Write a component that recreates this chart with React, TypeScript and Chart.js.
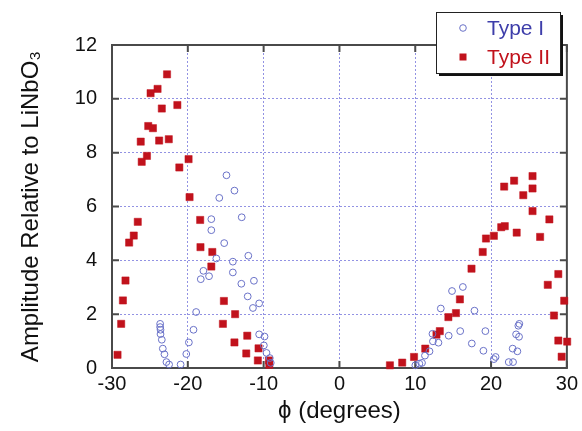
import React, { useEffect, useRef } from "react";
import { Chart, registerables } from "chart.js";

Chart.register(...registerables);

const typeIPhi = [
  -23.65, -23.65, -23.6, -23.6, -23.43, -23.3, -23.08, -22.82, -22.47,
  -20.95, -20.2, -19.86, -19.25, -18.9, -18.29, -17.94, -17.2, -16.9, -16.9,
  -16.24, -15.2, -15.85, -14.9, -13.85, -14.06, -14.06, -12.89, -12.02, -12.94,
  -11.28, -12.1, -11.41, -10.59, -10.59, -9.88, -9.97, -9.62, -9.19, -9.06,
  10.01, 10.54, 10.89, 11.28, 11.88, 12.33, 13.06, 12.27, 14.41, 15.93, 13.37,
  14.85, 16.28, 17.81, 17.46, 19.25, 18.99, 20.37, 20.6, 22.33, 22.9, 22.85,
  23.47, 23.3, 23.69, 23.6, 23.73,
];
const typeIAmp = [
  1.64, 1.52, 1.42, 1.26, 1.05, 0.72, 0.51, 0.22, 0.13,
  0.13, 0.52, 0.95, 1.42, 2.08, 3.3, 3.61, 3.41, 5.12, 5.53,
  4.07, 4.64, 6.32, 7.16, 6.59, 3.95, 3.55, 5.6, 4.17, 3.13,
  3.24, 2.66, 2.23, 2.4, 1.25, 1.17, 0.84, 0.56, 0.37, 0.19,
  0.1, 0.16, 0.19, 0.46, 0.62, 0.99, 0.94, 1.27, 1.2, 1.37, 2.21,
  2.86, 3.01, 2.13, 0.91, 1.37, 0.64, 0.33, 0.41, 0.22, 0.22, 0.72,
  0.62, 1.25, 1.16, 1.57, 1.64,
];

const typeIIPhi = [
  -22.74, -23.99, -24.91, -21.38, -23.43, -25.22, -24.6, -26.21, -23.78, -22.51,
  -25.39, -26.08, -19.9, -21.12, -19.77, -26.6, -27.13, -27.74, -28.22, -28.56,
  -28.79, -29.27, -18.37, -18.33, -16.77, -16.9, -15.24, -13.76, -15.37, -12.16,
  -13.85, -12.29, -10.67, -10.76, -9.3, -9.25,
  6.66, 8.28, 9.84, 11.32, 12.8, 13.24, 14.37, 15.37, 15.89, 17.42, 18.9, 19.33,
  20.37, 21.34, 21.81, 23.38, 21.73, 23.04, 24.25, 25.47, 25.47, 25.47, 27.69,
  26.47, 28.87, 27.48, 29.65, 28.3, 28.87, 30.04, 29.31,
];
const typeIIAmp = [
  10.91, 10.37, 10.21, 9.77, 9.64, 8.99, 8.91, 8.41, 8.45, 8.5,
  7.88, 7.66, 7.76, 7.45, 6.35, 5.43, 4.92, 4.66, 3.25, 2.51,
  1.64, 0.49, 5.5, 4.49, 4.31, 3.77, 2.49, 2.0, 1.64, 1.2,
  0.95, 0.54, 0.73, 0.28, 0.28, 0.12,
  0.1, 0.2, 0.41, 0.72, 1.24, 1.37, 1.89, 2.04, 2.55, 3.69, 4.31, 4.81,
  4.91, 5.23, 5.27, 5.03, 6.74, 6.96, 6.42, 7.13, 6.67, 5.83, 5.52,
  4.87, 3.49, 3.09, 2.5, 1.95, 1.02, 0.98, 0.42,
];

const seriesNames = ["Type I", "Type II"];
const xTickValues = [-30, -20, -10, 0, 10, 20, 30];
const yTickValues = [0, 2, 4, 6, 8, 10, 12];

const FONT = "'Liberation Sans', Arial, Helvetica, sans-serif";
const BLUE_MARK = "#6a72c8";
const BLUE_TEXT = "#3e3eaa";
const RED = "#c1121c";
const FRAME = "#4a4a4a";

const framePlugin = {
  id: "frame",
  beforeDatasetsDraw(chart: any) {
    const { ctx, chartArea, scales } = chart;
    const { left, right, top, bottom } = chartArea;
    ctx.save();
    ctx.strokeStyle = FRAME;
    ctx.lineWidth = 2;
    ctx.strokeRect(left, top, right - left, bottom - top);
    const tl = 7;
    ctx.beginPath();
    xTickValues.forEach((v) => {
      const x = scales.x.getPixelForValue(v);
      ctx.moveTo(x, bottom);
      ctx.lineTo(x, bottom - tl);
      ctx.moveTo(x, top);
      ctx.lineTo(x, top + tl);
    });
    yTickValues.forEach((v) => {
      const y = scales.y.getPixelForValue(v);
      ctx.moveTo(left, y);
      ctx.lineTo(left + tl, y);
      ctx.moveTo(right, y);
      ctx.lineTo(right - tl, y);
    });
    ctx.stroke();
    ctx.restore();
  },
  afterDraw(chart: any) {
    const { ctx } = chart;
    const bx = 436, by = 12, bw = 124, bh = 61;
    ctx.save();
    ctx.fillStyle = "#111";
    ctx.fillRect(bx + 3, by + 3, bw, bh);
    ctx.fillStyle = "#fff";
    ctx.fillRect(bx, by, bw, bh);
    ctx.strokeStyle = "#222";
    ctx.lineWidth = 1;
    ctx.strokeRect(bx + 0.5, by + 0.5, bw, bh);
    ctx.strokeStyle = BLUE_MARK;
    ctx.beginPath();
    ctx.arc(463, 28, 3.3, 0, Math.PI * 2);
    ctx.stroke();
    ctx.fillStyle = RED;
    ctx.fillRect(463 - 3.5, 57 - 3.5, 7, 7);
    ctx.font = `21px ${FONT}`;
    ctx.textBaseline = "middle";
    ctx.textAlign = "left";
    ctx.fillStyle = BLUE_TEXT;
    ctx.fillText(seriesNames[0], 487, 29);
    ctx.fillStyle = RED;
    ctx.fillText(seriesNames[1], 487, 58);
    ctx.restore();
  },
};

export default function App() {
  const ref = useRef<HTMLCanvasElement | null>(null);
  useEffect(() => {
    if (!ref.current) return;
    const chart = new Chart(ref.current, {
      type: "scatter",
      data: {
        datasets: [
          {
            label: seriesNames[0],
            data: typeIPhi.map((x, i) => ({ x, y: typeIAmp[i] })),
            pointStyle: "circle",
            pointRadius: 3.4,
            borderColor: BLUE_MARK,
            backgroundColor: "rgba(255,255,255,0)",
            borderWidth: 1,
            clip: false,
          } as any,
          {
            label: seriesNames[1],
            data: typeIIPhi.map((x, i) => ({ x, y: typeIIAmp[i] })),
            pointStyle: "rect",
            pointRadius: 5.1,
            borderColor: RED,
            backgroundColor: RED,
            borderWidth: 0.5,
            clip: false,
          } as any,
        ],
      },
      options: {
        responsive: false,
        animation: false,
        layout: { padding: { left: 0, right: 11, top: 45, bottom: 0 } },
        plugins: { legend: { display: false }, tooltip: { enabled: false } },
        scales: {
          x: {
            type: "linear",
            min: -30,
            max: 30,
            afterFit: (s: any) => { s.height = 63; },
            afterBuildTicks: (s: any) => { s.ticks = xTickValues.map((v) => ({ value: v })); },
            ticks: { color: "#111", font: { family: FONT, size: 20 }, padding: 4, maxRotation: 0 },
            grid: { color: "rgba(100,100,215,0.7)", lineWidth: 1, drawTicks: false },
            border: { display: false, dash: [2, 2] },
            title: {
              display: true,
              text: "ϕ (degrees)",
              color: "#111",
              font: { family: FONT, size: 24 },
              padding: { top: 0, bottom: 5 },
            },
          },
          y: {
            type: "linear",
            min: 0,
            max: 12,
            afterFit: (s: any) => { s.width = 112; },
            afterBuildTicks: (s: any) => { s.ticks = yTickValues.map((v) => ({ value: v })); },
            ticks: { color: "#111", font: { family: FONT, size: 20 }, padding: 15 },
            grid: { color: "rgba(100,100,215,0.7)", lineWidth: 1, drawTicks: false },
            border: { display: false, dash: [2, 2] },
            title: {
              display: true,
              text: "Amplitude Relative to LiNbO₃",
              color: "#111",
              font: { family: FONT, size: 24 },
              padding: { top: 17, bottom: 0 },
            },
          },
        },
      },
      plugins: [framePlugin],
    });
    return () => chart.destroy();
  }, []);
  return (
    <div style={{ position: "absolute", left: 0, top: 0, width: 582, height: 431, background: "#fff" }}>
      <canvas ref={ref} width={582} height={431} />
    </div>
  );
}
